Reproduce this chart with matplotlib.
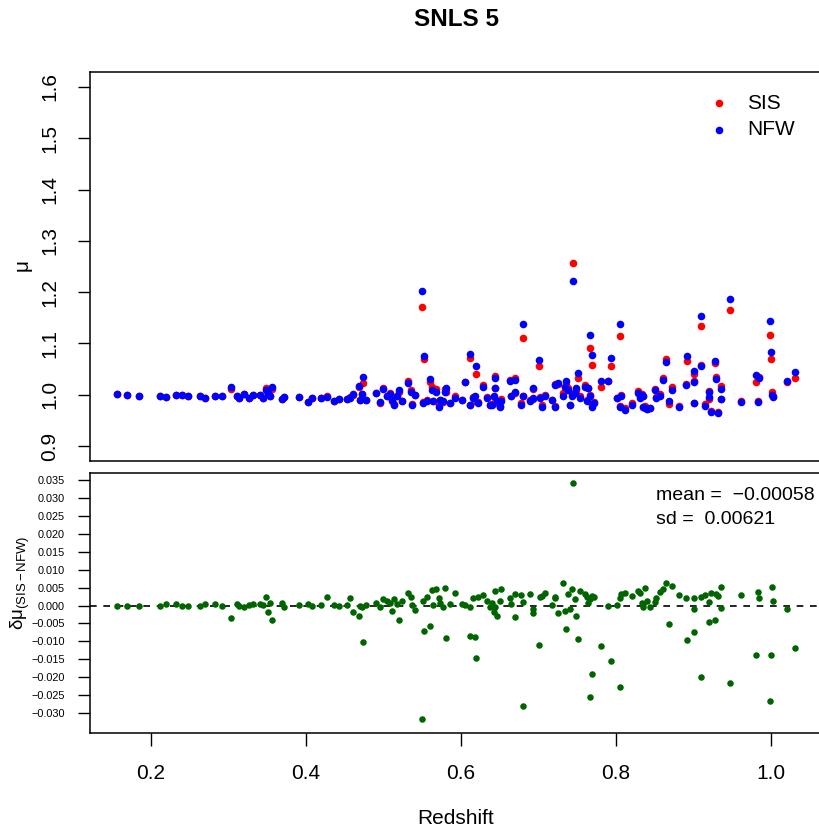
import matplotlib
import matplotlib.pyplot as plt
import numpy as np

matplotlib.use("Agg")

plt.rcParams["font.family"] = ["Liberation Sans", "DejaVu Sans"]
plt.rcParams["mathtext.fontset"] = "custom"
plt.rcParams["mathtext.rm"] = "Liberation Sans"
plt.rcParams["mathtext.it"] = "Liberation Sans:italic"

# redshift of each supernova, NFW magnification, and SIS - NFW difference
z = [
    0.156, 0.169, 0.184, 0.211, 0.220, 0.232, 0.240, 0.248, 0.263, 0.270,
    0.282, 0.291, 0.303, 0.311, 0.313, 0.320, 0.326, 0.332, 0.341, 0.345,
    0.349, 0.356, 0.354, 0.351, 0.369, 0.372, 0.391,
    0.402, 0.408, 0.419, 0.427, 0.436, 0.442, 0.453, 0.457, 0.461, 0.469,
    0.474, 0.472, 0.470, 0.478, 0.490, 0.500, 0.495, 0.504, 0.508, 0.511,
    0.513, 0.517, 0.520, 0.524, 0.532, 0.535, 0.541, 0.537,
    0.550, 0.552, 0.551, 0.556, 0.560, 0.562, 0.564, 0.568, 0.571, 0.573,
    0.577, 0.580, 0.581, 0.586, 0.592, 0.601, 0.605, 0.611, 0.612, 0.616,
    0.618, 0.620, 0.622, 0.629, 0.633, 0.637,
    0.640, 0.644, 0.644, 0.642, 0.646, 0.650, 0.652, 0.663, 0.670, 0.665,
    0.670, 0.678, 0.680, 0.680, 0.689, 0.693, 0.693, 0.701, 0.702, 0.704,
    0.708, 0.717, 0.721, 0.721, 0.725, 0.731, 0.734, 0.736, 0.738, 0.741,
    0.744, 0.743, 0.747, 0.749, 0.751, 0.754, 0.760, 0.762, 0.764, 0.766,
    0.766, 0.769, 0.769, 0.771, 0.780, 0.790, 0.793, 0.801, 0.805, 0.807,
    0.805, 0.812, 0.820, 0.829, 0.831, 0.837, 0.835,
    0.833, 0.835, 0.840, 0.844, 0.850, 0.852, 0.857, 0.861, 0.865, 0.869,
    0.872, 0.881, 0.891, 0.890, 0.900, 0.901, 0.900, 0.910, 0.910, 0.915,
    0.920, 0.920, 0.923, 0.928, 0.931, 0.929, 0.936, 0.936, 0.947, 0.961,
    0.980, 0.985, 0.983, 0.999, 1.000, 1.001, 1.002, 1.020, 1.031,
]
mu_nfw = [
    1.002, 0.999, 0.997, 0.998, 0.996, 0.999, 0.999, 0.997, 0.998, 0.994,
    0.997, 0.997, 1.015, 0.997, 0.993, 1.002, 0.994, 1.000, 1.000, 0.994,
    1.010, 1.016, 0.997, 1.004, 0.992, 0.996, 0.995,
    0.986, 0.994, 0.994, 0.995, 0.988, 0.992, 0.992, 0.994, 1.002, 1.018,
    1.034, 1.002, 0.990, 0.990, 1.003, 1.011, 0.985, 0.997, 1.002, 0.990,
    0.981, 0.997, 1.010, 0.987, 1.023, 1.006, 1.000, 0.981,
    1.202, 1.076, 0.984, 0.987, 1.031, 1.010, 0.987, 1.006, 0.977, 0.990,
    0.987, 1.006, 1.014, 0.984, 0.994, 0.990, 1.024, 0.981, 1.080, 0.994,
    0.997, 1.056, 0.984, 1.016, 0.994, 0.981,
    0.981, 1.013, 1.032, 0.997, 0.987, 0.977, 0.987, 1.026, 1.029, 0.997,
    1.006, 0.981, 0.997, 1.138, 0.987, 1.013, 0.994, 1.068, 0.994, 0.977,
    0.997, 0.990, 0.977, 1.019, 1.023, 0.997, 1.016, 1.026, 1.010, 0.981,
    1.222, 0.997, 1.003, 1.013, 1.042, 0.994, 1.016, 0.987, 1.013, 0.997,
    1.117, 1.077, 0.977, 0.984, 1.026, 1.026, 1.071, 0.994, 1.138, 0.997,
    0.977, 0.971, 0.981, 1.003, 0.994, 0.974, 0.997,
    1.000, 0.977, 0.972, 0.974, 1.010, 0.994, 0.997, 1.029, 1.063, 0.987,
    1.010, 0.976, 1.076, 1.019, 1.047, 1.024, 0.984, 1.056, 1.153, 0.979,
    1.006, 0.996, 0.966, 1.065, 0.964, 1.031, 1.012, 0.992, 1.187, 0.985,
    1.039, 1.032, 0.985, 1.144, 1.083, 1.000, 0.996, 1.026, 1.045,
]
d_mu = [
    0.0, 0.0, 0.0, 0.0, 0.0003, 0.0004, 0.0, 0.0, 0.0, 0.0005,
    0.0003, 0.0, -0.0035, 0.0003, 0.0, -0.0005, 0.0002, 0.0005, 0.0003, 0.0002,
    0.0023, -0.0039, 0.0007, -0.0017, 0.0007, -0.0003, 0.0002,
    0.0005, 0.0, 0.0001, 0.0024, 0.0001, 0.0, 0.0002, 0.0020, -0.0019, -0.0029,
    -0.0101, -0.0003, 0.0, 0.0002, 0.0007, 0.0018, -0.0003, 0.0013, 0.0008, -0.0015,
    0.0017, 0.0005, -0.0040, 0.0012, 0.0034, 0.0025, -0.0012, 0.0001,
    -0.0317, -0.0071, 0.0012, 0.0025, -0.0057, 0.0044, 0.0001, 0.0045, 0.0022, 0.0008,
    -0.0005, 0.0048, -0.0092, 0.0003, 0.0036, 0.0003, 0.0002, -0.0005, -0.0085, 0.0021,
    -0.0089, -0.0147, 0.0025, 0.0029, 0.0014, -0.0004,
    0.0006, -0.0005, 0.0040, -0.0017, -0.0029, 0.0014, 0.0045, 0.0020, 0.0032, 0.0005,
    -0.0031, 0.0029, 0.0010, -0.0282, 0.0033, -0.0010, -0.0022, -0.0110, 0.0025, 0.0028,
    0.0034, 0.0001, 0.0020, 0.0023, -0.0022, 0.0062, -0.0015, -0.0066, 0.0033, -0.0010,
    0.0344, 0.0045, 0.0017, -0.0029, -0.0094, 0.0042, 0.0033, 0.0025, 0.0008, 0.0018,
    -0.0257, -0.0192, 0.0028, 0.0023, -0.0113, 0.0000, -0.0155, 0.0001, -0.0228, 0.0031,
    0.0020, 0.0035, 0.0027, 0.0041, 0.0035, 0.0050, 0.0003,
    0.0008, -0.0003, 0.0013, -0.0003, 0.0011, 0.0020, 0.0038, 0.0047, 0.0062, -0.0052,
    0.0054, 0.0030, -0.0096, 0.0022, -0.0073, 0.0022, -0.0009, 0.0023, -0.0199, 0.0030,
    0.0011, -0.0045, 0.0034, -0.0040, 0.0026, 0.0032, 0.0051, -0.0007, -0.0217, 0.0030,
    -0.0138, 0.0022, 0.0038, -0.0268, -0.0138, 0.0052, 0.0013, -0.0011, -0.0118,
]

x_ticks = [0.2, 0.4, 0.6, 0.8, 1.0]
mu_ticks = [0.9, 1.0, 1.1, 1.2, 1.3, 1.4, 1.5, 1.6]
d_ticks = [0.035, 0.030, 0.025, 0.020, 0.015, 0.010, 0.005, 0.000,
           -0.005, -0.010, -0.015, -0.020, -0.025, -0.030]
stats_text = ["mean =  −0.00058", "sd =  0.00621"]

z = np.array(z)
mu_nfw = np.array(mu_nfw)
d_mu = np.array(d_mu)
mu_sis = mu_nfw + d_mu

fs = 15

fig = plt.figure(figsize=(8.2, 8.32), dpi=100)
ax1 = fig.add_axes([90 / 820, (832 - 461) / 832, 732 / 820, 389 / 832])
ax2 = fig.add_axes([90 / 820, (832 - 733) / 832, 732 / 820, 260 / 832])

xlim = (0.1213, 1.0658)

# top panel: magnifications
h_sis = ax1.scatter(z, mu_sis, s=30, c="#FF0000", linewidths=0, label="SIS")
h_nfw = ax1.scatter(z, mu_nfw, s=30, c="#0000FF", linewidths=0, label="NFW")
ax1.set_xlim(*xlim)
ax1.set_ylim(0.871, 1.629)
ax1.set_xticks([])
ax1.set_yticks(mu_ticks)
ax1.set_yticklabels([f"{t:.1f}" for t in mu_ticks], rotation=90, va="center")
ax1.tick_params(axis="y", length=9, width=1, labelsize=fs, pad=13)
ax1.legend(handles=[h_sis, h_nfw], loc="upper left", bbox_to_anchor=(0.834, 0.966),
           frameon=False, fontsize=fs, handlelength=1.0, handletextpad=0.85,
           labelspacing=0.36, borderaxespad=0)

# bottom panel: difference
ax2.axhline(0, color="black", lw=1.2, ls=(0, (4, 4)), zorder=1)
ax2.scatter(z, d_mu, s=22, c="#006400", linewidths=0, zorder=2)
ax2.set_xlim(*xlim)
ax2.set_ylim(-0.03564, 0.03707)
ax2.set_xticks(x_ticks)
ax2.set_xticklabels([f"{t:.1f}" for t in x_ticks])
ax2.set_yticks(d_ticks)
ax2.set_yticklabels([f"{t:.3f}".replace("-", "−") for t in d_ticks])
ax2.tick_params(axis="x", length=9, width=1, labelsize=fs, pad=13)
ax2.tick_params(axis="y", length=9, width=1, labelsize=7.8, pad=9)
ax2.text(0.773, 0.9126, stats_text[0], transform=ax2.transAxes, fontsize=14, va="center")
ax2.text(0.773, 0.820, stats_text[1], transform=ax2.transAxes, fontsize=14, va="center")

for ax in (ax1, ax2):
    for sp in ax.spines.values():
        sp.set_linewidth(1.1)

fig.text(456 / 820, 1 - 20 / 832, "SNLS 5", ha="center", va="center",
         fontsize=17.5, fontweight="bold")
fig.text(456 / 820, 1 - 818 / 832, "Redshift", ha="center", va="center", fontsize=fs)
fig.text(22 / 820, 1 - 265 / 832, "μ", ha="center", va="center", fontsize=fs, rotation=90)
fig.text(20 / 820, 1 - 583 / 832, "$\\mathrm{δμ}_{\\mathrm{(SIS−NFW)}}$",
         ha="center", va="center", fontsize=13.5, rotation=90)

fig.savefig("out.png", dpi=100)
